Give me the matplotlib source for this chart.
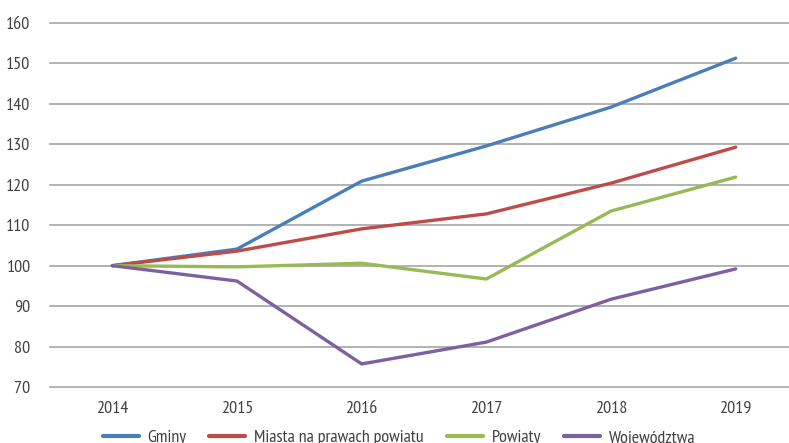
import matplotlib
matplotlib.use('Agg')
import matplotlib.pyplot as plt
from matplotlib import font_manager

years = ['2014', '2015', '2016', '2017', '2018', '2019']
gminy = [100, 104.1, 120.9, 129.6, 139.2, 151.3]
miasta = [100, 103.6, 109.1, 112.8, 120.4, 129.3]
powiaty = [100, 99.7, 100.6, 96.7, 113.5, 121.9]
wojewodztwa = [100, 96.2, 75.7, 81.1, 91.7, 99.2]

labels = ['Gminy', 'Miasta na prawach powiatu', 'Powiaty', 'Województwa']
colors = ['#4A7EBB', '#BE4B48', '#98B954', '#7D60A0']

# condensed font close to the original
names = {f.name for f in font_manager.fontManager.ttflist}
fam = 'DejaVu Sans'
for cand in ['PT Sans Narrow', 'Roboto Condensed', 'Fira Sans Condensed',
             'Asap Condensed', 'Archivo Narrow', 'Barlow Semi Condensed']:
    if cand in names:
        fam = cand
        break
plt.rcParams['font.family'] = [fam, 'DejaVu Sans']

fig = plt.figure(figsize=(7.89, 4.43), dpi=100)
ax = fig.add_axes([50 / 789, 1 - 387 / 443, 748 / 789, 364 / 443])

x = range(len(years))
for vals, lab, col in zip([gminy, miasta, powiaty, wojewodztwa], labels, colors):
    ax.plot(x, vals, color=col, lw=2.4, label=lab, solid_capstyle='round')

ax.set_ylim(70, 160)
ax.set_xlim(-0.5, 5.5)
ax.set_yticks(range(70, 161, 10))
ax.set_xticks(list(x))
ax.set_xticklabels(years)
ax.yaxis.grid(True, color='#A6A6A6', lw=1.2, clip_on=False)
for gl in ax.get_ygridlines():
    gl.set_clip_on(False)
ax.set_axisbelow(True)
for s in ax.spines.values():
    s.set_visible(False)
ax.tick_params(length=0, labelsize=13, colors='#404040')
ax.tick_params(axis='y', pad=14)
ax.tick_params(axis='x', pad=10)

leg = fig.legend(loc='center', bbox_to_anchor=(399 / 789, 1 - 438 / 443), ncol=4,
                 frameon=False, fontsize=13, handlelength=2.0, columnspacing=1.25,
                 handletextpad=0.5)
for t in leg.get_texts():
    t.set_color('#404040')
for h in leg.get_lines():
    h.set_linewidth(3)

fig.savefig('out.png', dpi=100)
